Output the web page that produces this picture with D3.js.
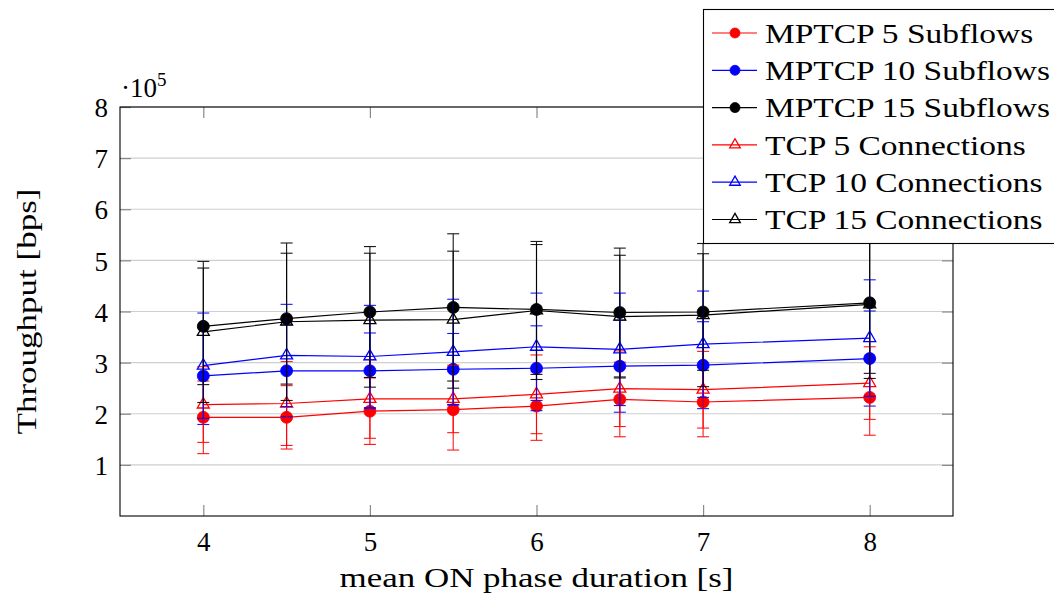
<!DOCTYPE html>
<html>
<head>
<meta charset="utf-8">
<script src="https://cdn.jsdelivr.net/npm/d3@7"></script>
<style>
  html, body { margin: 0; padding: 0; background: #fff; }
  svg { display: block; }
  text { font-family: "Liberation Serif", "DejaVu Serif", "Noto Serif", serif; }
</style>
</head>
<body>
<svg id="chart" width="1054" height="596"></svg>
<script>
// ---- data (throughput in units of 1e5 bps) ----
const xValues = [4, 4.5, 5, 5.5, 6, 6.5, 7, 8];
const xTicks = [4, 5, 6, 7, 8];
const yTicks = [1, 2, 3, 4, 5, 6, 7, 8];

const mptcp5  = [1.93, 1.93, 2.05, 2.08, 2.15, 2.28, 2.23, 2.32];
const mptcp10 = [2.74, 2.84, 2.84, 2.87, 2.89, 2.93, 2.95, 3.08];
const mptcp15 = [3.71, 3.86, 3.99, 4.08, 4.04, 3.98, 3.99, 4.17];
const tcp5    = [2.18, 2.20, 2.29, 2.29, 2.38, 2.49, 2.47, 2.60];
const tcp10   = [2.94, 3.14, 3.12, 3.21, 3.31, 3.26, 3.36, 3.48];
const tcp15   = [3.60, 3.80, 3.83, 3.84, 4.02, 3.90, 3.93, 4.14];

const mptcp5Err  = [0.71, 0.62, 0.65, 0.79, 0.67, 0.73, 0.68, 0.74];
const mptcp10Err = [0.95, 0.90, 0.74, 0.70, 0.83, 0.90, 0.85, 0.93];
const mptcp15Err = [1.14, 1.28, 1.28, 1.44, 1.27, 1.26, 1.14, 1.38];
const tcp5Err    = [0.74, 0.82, 0.77, 0.66, 0.77, 0.74, 0.75, 0.71];
const tcp10Err   = [1.03, 1.00, 1.00, 1.03, 1.05, 1.10, 1.04, 1.14];
const tcp15Err   = [1.38, 1.54, 1.31, 1.34, 1.35, 1.20, 1.40, 1.45];

const seriesNames = ["MPTCP 5 Subflows", "MPTCP 10 Subflows", "MPTCP 15 Subflows",
                     "TCP 5 Connections", "TCP 10 Connections", "TCP 15 Connections"];
const seriesColors = ["#ff0000", "#0000ff", "#000000", "#ff0000", "#0000ff", "#000000"];
const seriesMarks = ["circle", "circle", "circle", "triangle", "triangle", "triangle"];
const seriesValues = [mptcp5, mptcp10, mptcp15, tcp5, tcp10, tcp15];
const seriesErrors = [mptcp5Err, mptcp10Err, mptcp15Err, tcp5Err, tcp10Err, tcp15Err];

const xTitle = "mean ON phase duration [s]";
const yTitle = "Throughput [bps]";

// ---- layout ----
const svg = d3.select("#chart");
const FAMILY = '"Liberation Serif", "DejaVu Serif", serif';
const plot = { left: 120, right: 953, top: 107, bottom: 516 };
const x = d3.scaleLinear().domain([3.5, 8.5]).range([plot.left, plot.right]);
const y = d3.scaleLinear().domain([0, 8]).range([plot.bottom, plot.top]);
const FONT = 27;

function fitWidth(sel, w) {
  sel.attr("textLength", w).attr("lengthAdjust", "spacingAndGlyphs");
}

// grid
svg.append("g").selectAll("line").data(yTicks).join("line")
  .attr("x1", plot.left).attr("x2", plot.right)
  .attr("y1", d => y(d)).attr("y2", d => y(d))
  .attr("stroke", "#cfcfcf").attr("stroke-width", 1.2);

// axes via d3 axis (ticks inside)
const yAxisL = d3.axisLeft(y).tickValues(yTicks).tickSize(-11).tickFormat(d3.format("d"));
const yAxisR = d3.axisRight(y).tickValues(yTicks).tickSize(-11).tickFormat("");
const xAxisB = d3.axisBottom(x).tickValues(xTicks).tickSize(-11).tickFormat(d3.format("d"));
const xAxisT = d3.axisTop(x).tickValues(xTicks).tickSize(-11).tickFormat("");

function styleAxis(g) {
  g.attr("font-family", FAMILY).attr("font-size", FONT);
  g.select(".domain").remove();
  g.selectAll(".tick line").attr("stroke", "#8a8a8a").attr("stroke-width", 1.2);
  g.selectAll(".tick text").attr("fill", "#000").attr("font-size", FONT)
    .attr("font-family", FAMILY);
}
const gL = svg.append("g").attr("transform", `translate(${plot.left},0)`).call(yAxisL).call(styleAxis);
gL.selectAll(".tick text").attr("x", -12).attr("dy", "0.36em");
svg.append("g").attr("transform", `translate(${plot.right},0)`).call(yAxisR).call(styleAxis);
const gB = svg.append("g").attr("transform", `translate(0,${plot.bottom})`).call(xAxisB).call(styleAxis);
gB.selectAll(".tick text").attr("y", 16).attr("dy", "0.71em");
svg.append("g").attr("transform", `translate(0,${plot.top})`).call(xAxisT).call(styleAxis);

// frame
svg.append("rect").attr("x", plot.left).attr("y", plot.top)
  .attr("width", plot.right - plot.left).attr("height", plot.bottom - plot.top)
  .attr("fill", "none").attr("stroke", "#000").attr("stroke-width", 1.1);

// scale label ·10^5
const sl = svg.append("text").attr("x", 121).attr("y", 97).attr("font-size", FONT)
  .attr("font-family", FAMILY).attr("fill", "#000");
sl.append("tspan").text("·10");
sl.append("tspan").attr("font-size", 19).attr("dy", -11).text("5");

// titles
const xt = svg.append("text").attr("x", (plot.left + plot.right) / 2).attr("y", 587)
  .attr("text-anchor", "middle").attr("font-size", FONT).attr("font-family", FAMILY)
  .attr("fill", "#000").text(xTitle);
fitWidth(xt, 394);
const yt = svg.append("text").attr("transform", `translate(36,${(plot.top + plot.bottom) / 2}) rotate(-90)`)
  .attr("text-anchor", "middle").attr("font-size", FONT).attr("font-family", FAMILY)
  .attr("fill", "#000").text(yTitle);
fitWidth(yt, 246);

// marker helper
function drawMarker(g, mark, color, r) {
  if (mark === "circle") {
    g.append("circle").attr("r", r).attr("fill", color).attr("stroke", color).attr("stroke-width", 0.8);
  } else {
    g.append("path").attr("d", d3.symbol().type(d3.symbolTriangle).size(r * r * 2.3)())
      .attr("fill", "none").attr("stroke", color).attr("stroke-width", 1.3);
  }
}

// series
const line = d3.line().x(d => x(d[0])).y(d => y(d[1]));
seriesValues.forEach((vals, i) => {
  const color = seriesColors[i];
  const g = svg.append("g");
  const pts = xValues.map((xv, j) => [xv, vals[j], seriesErrors[i][j]]);
  const eb = g.append("g").attr("stroke", color).attr("stroke-width", 1.1).attr("opacity", 0.9);
  pts.forEach(p => {
    const cx = x(p[0]);
    eb.append("line").attr("x1", cx).attr("x2", cx).attr("y1", y(p[1] - p[2])).attr("y2", y(p[1] + p[2]));
    [p[1] - p[2], p[1] + p[2]].forEach(v => {
      eb.append("line").attr("x1", cx - 6).attr("x2", cx + 6).attr("y1", y(v)).attr("y2", y(v));
    });
  });
  g.append("path").datum(pts).attr("d", line).attr("fill", "none")
    .attr("stroke", color).attr("stroke-width", 1.2);
  pts.forEach(p => {
    const mg = g.append("g").attr("transform", `translate(${x(p[0])},${y(p[1])})`);
    drawMarker(mg, seriesMarks[i], color, seriesMarks[i] === "circle" ? 6 : 5.2);
  });
});

// legend
const leg = svg.append("g");
leg.append("rect").attr("x", 703.5).attr("y", 9.5).attr("width", 360).attr("height", 234)
  .attr("fill", "#fff").attr("stroke", "#000").attr("stroke-width", 1.1);
const texts = [];
seriesNames.forEach((name, i) => {
  const cy = 33 + i * 37.3;
  const color = seriesColors[i];
  leg.append("line").attr("x1", 712).attr("x2", 757).attr("y1", cy).attr("y2", cy)
    .attr("stroke", color).attr("stroke-width", 1.2);
  const mg = leg.append("g").attr("transform", `translate(735,${cy})`);
  drawMarker(mg, seriesMarks[i], color, seriesMarks[i] === "circle" ? 5 : 4.6);
  const t = leg.append("text").attr("x", 765).attr("y", cy).attr("dy", "0.36em")
    .attr("font-size", FONT).attr("font-family", FAMILY).attr("fill", "#000").text(name);
  texts.push(t);
});
// scale legend labels so the widest one spans 285px
const widths = texts.map(t => t.node().getComputedTextLength());
const k = 285 / d3.max(widths);
texts.forEach((t, i) => fitWidth(t, widths[i] * k));
</script>
</body>
</html>
